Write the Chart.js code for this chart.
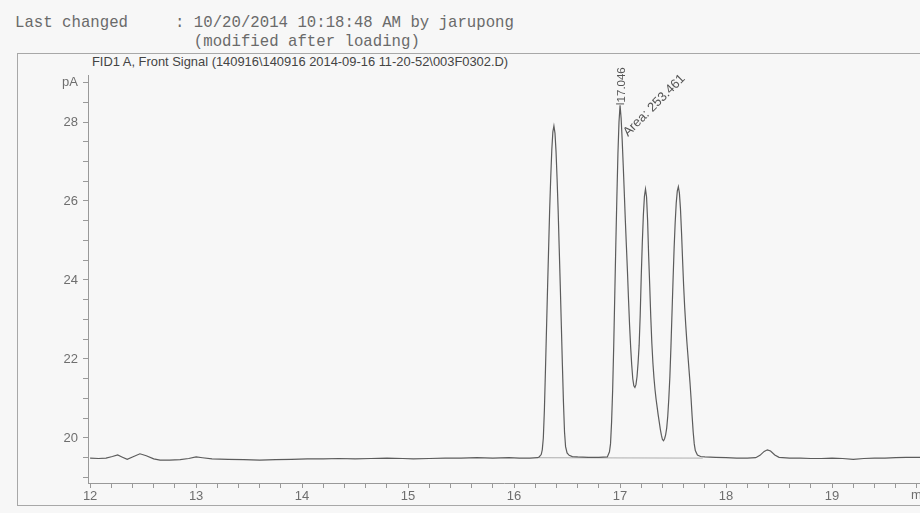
<!DOCTYPE html>
<html>
<head>
<meta charset="utf-8">
<script src="https://cdn.jsdelivr.net/npm/chart.js@4.4.1/dist/chart.umd.min.js"></script>
<style>
  html, body { margin: 0; padding: 0; background: #f7f7f7; overflow: hidden; }
  #page { position: relative; width: 920px; height: 513px; overflow: hidden; }
  .hdr { position: absolute; left: 15px; margin: 0; font: 15.7px "Liberation Mono", monospace; color: #6a6a6a; white-space: pre; }
  #frame { position: absolute; left: 17px; top: 53px; width: 960px; height: 451px; border: 1px solid #a8a8a8; }
  #sigTitle { position: absolute; left: 92px; top: 54px; font: 12.9px "Liberation Sans", Arial, sans-serif; color: #444; white-space: pre; }
  #minLbl { position: absolute; left: 911px; top: 487px; font: 13px "Liberation Sans", Arial, sans-serif; color: #6e6e6e; }
  #chart { position: absolute; left: 0; top: 0; }
</style>
</head>
<body>
<div id="page">
  <div class="hdr" style="top:14px">Last changed     : 10/20/2014 10:18:48 AM by jarupong</div>
  <div class="hdr" style="top:33px">                   (modified after loading)</div>
  <div id="frame"></div>
  <div id="sigTitle">FID1 A, Front Signal (140916\140916 2014-09-16 11-20-52\003F0302.D)</div>
  <canvas id="chart" width="920" height="513"></canvas>
  <div id="minLbl">min</div>
</div>
<script>
// retention time (min)
var retTime = [
  12.00, 12.08, 12.15, 12.21, 12.26, 12.30, 12.35, 12.40, 12.47, 12.53,
  12.60, 12.66, 12.75, 12.85, 12.93, 13.00, 13.06, 13.15, 13.30, 13.45,
  13.60, 13.75, 13.90, 14.05, 14.20, 14.35, 14.50, 14.65, 14.80, 14.95,
  15.05, 15.20, 15.35, 15.50, 15.65, 15.80, 15.95, 16.05, 16.15, 16.22,
  16.236, 16.256, 16.266, 16.276, 16.286, 16.296, 16.306, 16.316, 16.326, 16.336,
  16.346, 16.356, 16.366, 16.376, 16.386, 16.396, 16.406, 16.416, 16.426, 16.436,
  16.446, 16.456, 16.466, 16.476, 16.486, 16.50, 16.52, 16.55, 16.60, 16.70,
  16.80, 16.88, 16.90, 16.91, 16.92, 16.93, 16.94, 16.95, 16.96, 16.97,
  16.98, 16.99, 17.00, 17.01, 17.02, 17.03, 17.04, 17.05, 17.06, 17.07,
  17.08, 17.09, 17.10, 17.11, 17.12, 17.13, 17.14, 17.15, 17.16, 17.17,
  17.18, 17.19, 17.20, 17.21, 17.22, 17.23, 17.24, 17.25, 17.26, 17.27,
  17.28, 17.29, 17.30, 17.31, 17.32, 17.33, 17.34, 17.35, 17.36, 17.37,
  17.38, 17.39, 17.40, 17.41, 17.42, 17.43, 17.44, 17.45, 17.46, 17.47,
  17.48, 17.49, 17.50, 17.51, 17.52, 17.53, 17.54, 17.55, 17.56, 17.57,
  17.58, 17.59, 17.60, 17.61, 17.62, 17.63, 17.64, 17.65, 17.66, 17.67,
  17.68, 17.69, 17.70, 17.71, 17.73, 17.76, 17.80, 17.90, 18.00, 18.10,
  18.20, 18.28, 18.32, 18.36, 18.39, 18.42, 18.46, 18.50, 18.60, 18.70,
  18.80, 18.90, 19.00, 19.10, 19.20, 19.30, 19.40, 19.50, 19.60, 19.70,
  19.83
];
// FID1 A signal (pA)
var signalPA = [
  19.49, 19.48, 19.49, 19.53, 19.57, 19.52, 19.46, 19.52, 19.60, 19.55,
  19.47, 19.44, 19.44, 19.45, 19.48, 19.52, 19.50, 19.47, 19.46, 19.45,
  19.44, 19.45, 19.46, 19.47, 19.47, 19.48, 19.47, 19.48, 19.49, 19.48,
  19.47, 19.48, 19.49, 19.49, 19.50, 19.49, 19.50, 19.49, 19.49, 19.50,
  19.52, 19.58, 19.70, 20.00, 20.70, 21.70, 22.75, 23.80, 24.80, 25.80,
  26.60, 27.30, 27.75, 27.90, 27.72, 27.25, 26.55, 25.75, 24.80, 23.85,
  22.85, 21.85, 20.90, 20.15, 19.78, 19.62, 19.56, 19.53, 19.52, 19.51,
  19.51, 19.52, 19.65, 19.85, 20.40, 21.20, 22.30, 23.60, 24.90, 26.10,
  27.20, 28.00, 28.42, 28.10, 27.55, 26.90, 26.20, 25.50, 24.85, 24.20,
  23.50, 22.85, 22.30, 21.85, 21.50, 21.32, 21.28, 21.35, 21.55, 21.90,
  22.35, 23.10, 24.10, 24.95, 25.65, 26.12, 26.30, 26.10, 25.50, 24.60,
  23.85, 23.05, 22.40, 21.90, 21.52, 21.22, 20.98, 20.78, 20.58, 20.40,
  20.22, 20.07, 19.96, 19.93, 19.98, 20.08, 20.25, 20.55, 21.00, 21.55,
  22.30, 23.15, 24.00, 24.80, 25.45, 25.95, 26.25, 26.36, 26.20, 25.80,
  25.20, 24.50, 23.85, 23.30, 22.85, 22.45, 22.10, 21.75, 21.40, 21.00,
  20.55, 20.15, 19.85, 19.68, 19.57, 19.53, 19.52, 19.51, 19.50, 19.49,
  19.49, 19.50, 19.56, 19.66, 19.70, 19.67, 19.57, 19.51, 19.49, 19.49,
  19.48, 19.48, 19.49, 19.48, 19.46, 19.48, 19.49, 19.49, 19.50, 19.51,
  19.51
];
// integration baseline under the peak group
var baseTime = [16.22, 17.78];
var basePA = [19.50, 19.49];

var yLabels = { 20: "20", 22: "22", 24: "24", 26: "26", 28: "28", 29: "pA" };
var peakRT = 17.046;
var peakApex = [17.00, 28.42];
var areaText = "Area: 253.461";

function toPoints(xs, ys) {
  var pts = [];
  for (var i = 0; i < xs.length; i++) pts.push({ x: xs[i], y: ys[i] });
  return pts;
}

var peakLabels = {
  id: "peakLabels",
  afterDatasetsDraw: function (chart) {
    var ctx = chart.ctx;
    var xs = chart.scales.x, ys = chart.scales.y;
    var px = xs.getPixelForValue(peakApex[0]);
    var py = ys.getPixelForValue(peakApex[1]);
    ctx.save();
    ctx.fillStyle = "#555";
    ctx.strokeStyle = "#555";
    ctx.lineWidth = 1;
    ctx.font = '11.5px "Liberation Sans", Arial, sans-serif';
    // retention time marker + label
    ctx.beginPath();
    ctx.moveTo(px - 4, py - 1.5);
    ctx.lineTo(px + 4, py - 1.5);
    ctx.stroke();
    ctx.translate(px + 5, py - 3);
    ctx.rotate(-Math.PI / 2);
    ctx.fillText(peakRT.toFixed(3), 0, 0);
    ctx.restore();

    ctx.save();
    ctx.fillStyle = "#555";
    ctx.font = '13px "Liberation Sans", Arial, sans-serif';
    ctx.translate(xs.getPixelForValue(peakRT) + 3, ys.getPixelForValue(27.62));
    ctx.rotate(-45 * Math.PI / 180);
    ctx.fillText(areaText, 0, 0);
    ctx.restore();
  }
};

var tickFont = { family: "'Liberation Sans', Arial, sans-serif", size: 13 };

var ctx = document.getElementById("chart").getContext("2d");
var myChart = new Chart(ctx, {
  type: "line",
  data: {
    datasets: [
      {
        data: toPoints(retTime, signalPA),
        borderColor: "#5c5c5c",
        borderWidth: 1.2,
        pointRadius: 0,
        tension: 0,
        fill: false,
      },
      {
        data: toPoints(baseTime, basePA),
        borderColor: "#9a9a9a",
        borderWidth: 0.8,
        pointRadius: 0,
        fill: false,
      },
    ],
  },
  options: {
    responsive: false,
    animation: false,
    parsing: false,
    layout: { padding: { left: 18, top: 75, right: 0, bottom: 0 } },
    plugins: { legend: { display: false }, tooltip: { enabled: false } },
    scales: {
      x: {
        type: "linear",
        min: 11.98,
        max: 19.83,
        afterFit: function (s) { s.height = 30; },
        border: { display: true, color: "#999", width: 1 },
        grid: { drawOnChartArea: false, drawTicks: true, tickLength: 5, color: "#999" },
        ticks: {
          stepSize: 0.2,
          includeBounds: false,
          autoSkip: false,
          maxRotation: 0,
          padding: 1,
          color: "#6e6e6e",
          font: tickFont,
          callback: function (v) {
            return Math.abs(v - Math.round(v)) < 1e-6 ? String(Math.round(v)) : "";
          },
        },
      },
      y: {
        min: 18.86,
        max: 29.19,
        afterFit: function (s) { s.width = 70; },
        border: { display: true, color: "#999", width: 1 },
        grid: { drawOnChartArea: false, drawTicks: true, tickLength: 5, color: "#999" },
        ticks: {
          stepSize: 0.5,
          includeBounds: false,
          autoSkip: false,
          padding: 5,
          color: "#6e6e6e",
          font: tickFont,
          callback: function (v) {
            var k = Math.round(v * 2) / 2;
            return yLabels[k] !== undefined && Math.abs(v - k) < 1e-6 ? yLabels[k] : "";
          },
        },
      },
    },
  },
  plugins: [peakLabels],
});
</script>
</body>
</html>
